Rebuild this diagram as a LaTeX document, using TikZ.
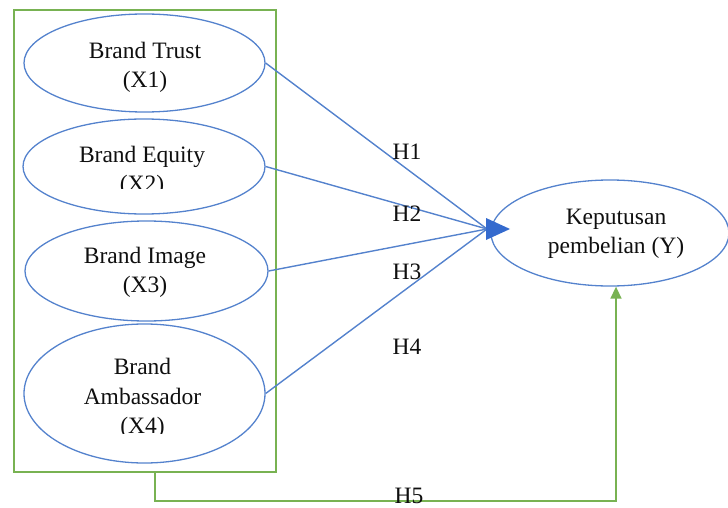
\documentclass[tikz,border=0pt]{standalone}
\usepackage{fontspec}
\setmainfont{Liberation Serif}
\usetikzlibrary{shapes.geometric,arrows.meta}
\definecolor{lineblue}{RGB}{84,130,205}
\definecolor{tipblue}{RGB}{52,106,206}
\definecolor{boxgreen}{RGB}{120,178,82}
\definecolor{txt}{RGB}{15,15,15}
\tikzset{
  oval/.style={draw=lineblue, line width=1.3pt, ellipse, inner sep=0pt},
  lbl/.style={align=center, text=txt, inner sep=0pt, font=\fontsize{23.5}{29.5}\selectfont},
  hyp/.style={text=txt, inner sep=0pt, anchor=base, font=\fontsize{23.5}{29}\selectfont},
  link/.style={draw=lineblue, line width=1.4pt},
  greenline/.style={draw=boxgreen, line width=1.5pt}
}
\begin{document}
\begin{tikzpicture}[x=1pt,y=-1pt]
\useasboundingbox (0,0) rectangle (728,508);
% outer green box
\node[greenline, draw, rectangle, minimum width=262pt, minimum height=462pt, inner sep=0pt] (box) at (145,241) {};
% ellipses
\node[oval, minimum width=241pt, minimum height=98pt] (e1) at (144.5,63) {};
\node[oval, minimum width=242pt, minimum height=95pt] (e2) at (144,166.5) {};
\node[oval, minimum width=243pt, minimum height=100pt] (e3) at (146.5,271) {};
\node[oval, minimum width=241pt, minimum height=139pt] (e4) at (144.5,393.5) {};
\node[oval, minimum width=238pt, minimum height=106pt] (y) at (610,233) {};
% texts
\node[lbl] (t1) at (145,67.5) {Brand Trust\\(X1)};
\begin{scope}
\clip (0,0) rectangle (728,188.5);
\node[lbl] (t2) at (142,171.5) {Brand Equity\\(X2)};
\end{scope}
\node[lbl] (t3) at (145,272.5) {Brand Image\\(X3)};
\begin{scope}
\clip (0,0) rectangle (728,433);
\node[lbl] (t4) at (142.5,398.5) {Brand\\Ambassador\\(X4)};
\end{scope}
\node[lbl] (ty) at (616,234) {Keputusan\\pembelian (Y)};
% converging arrows
\coordinate (conv) at (487,229);
\coordinate (tip) at (510,229);
\draw[link] (e1.east) -- (conv);
\draw[link] (e2.east) -- (conv);
\draw[link] (e3.east) -- (conv);
\draw[link] (e4.east) -- (conv);
\fill[tipblue] ([xshift=-1pt,yshift=-11pt]conv) -- (tip) -- ([xshift=-1pt,yshift=11pt]conv) -- cycle;
% green connector
\draw[greenline, -{Triangle[length=12pt,width=11pt]}] ([xshift=10pt]box.south) -- ++(0,28) -| ([xshift=6pt]y.south);
% hypothesis labels
\node[hyp] (h1) at (407,160) {H1};
\node[hyp] (h2) at (407,221.5) {H2};
\node[hyp] (h3) at (407,279) {H3};
\node[hyp] (h4) at (407,354) {H4};
\node[hyp] (h5) at (409,503) {H5};
\end{tikzpicture}
\end{document}
